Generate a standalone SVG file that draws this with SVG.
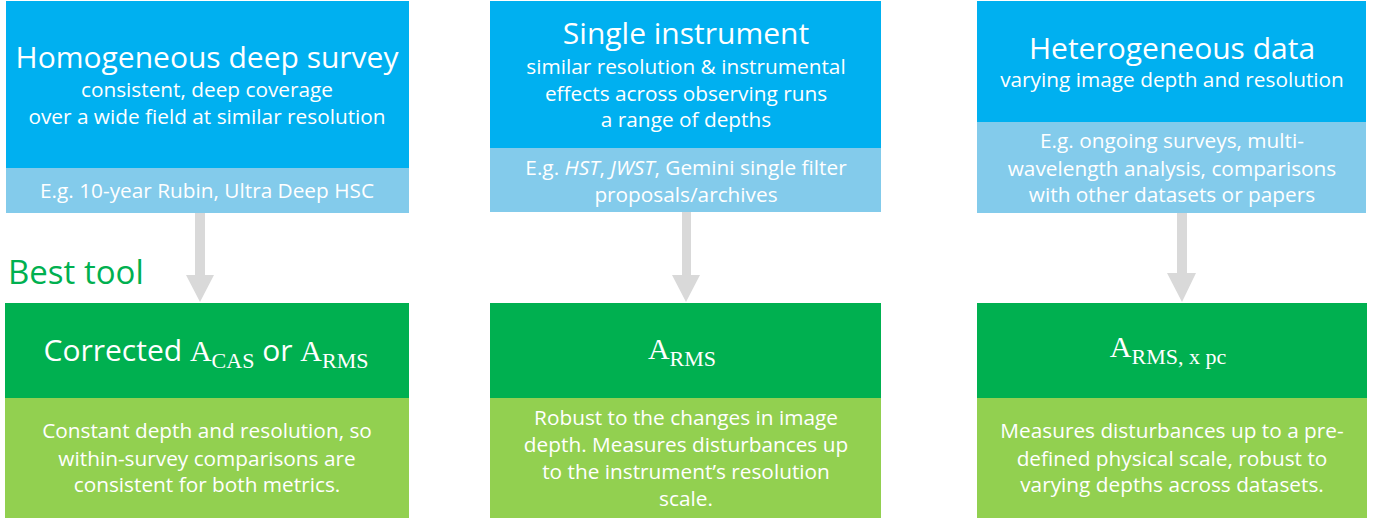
<svg xmlns="http://www.w3.org/2000/svg" width="1377" height="518" viewBox="0 0 1377 518">
<style>
.blue{fill:#00B0F0}
.lblue{fill:#83CBEB}
.green{fill:#00B050}
.lgreen{fill:#92D050}
.arrow{fill:#D9D9D9}
text{font-family:"Open Sans","Liberation Sans",sans-serif;fill:#FFFFFF;text-anchor:middle}
.title{font-size:30px}
.body{font-size:20.8px}
.math{font-family:"Liberation Serif","DejaVu Serif",serif;font-size:30px}
.sub{font-size:22px}
.best{font-size:33px;fill:#00B050;text-anchor:start}
</style>
<rect width="1377" height="518" fill="#FFFFFF"/>
<g id="connectors">
<polygon class="arrow" points="195,213 205,213 205,275 214,275 200,302 186,275 195,275"/>
<polygon class="arrow" points="682,212 691,212 691,275 700,275 686,302 672,275 682,275"/>
<polygon class="arrow" points="1177,213 1187,213 1187,273 1196,273 1182,302 1167,273 1177,273"/>
</g>
<g id="homogeneous">
<rect class="blue" x="6" y="1" width="403" height="167"/>
<text class="title" x="207" y="68">Homogeneous deep survey</text>
<text class="body" x="207" y="97">consistent, deep coverage</text>
<text class="body" x="207" y="124">over a wide field at similar resolution</text>
<rect class="lblue" x="6" y="168" width="403" height="45"/>
<text class="body" x="207" y="198">E.g. 10-year Rubin, Ultra Deep HSC</text>
</g>
<g id="single">
<rect class="blue" x="490" y="1" width="391" height="147"/>
<text class="title" x="686" y="44">Single instrument</text>
<text class="body" x="686" y="74">similar resolution &amp; instrumental</text>
<text class="body" x="686" y="101">effects across observing runs</text>
<text class="body" x="686" y="127">a range of depths</text>
<rect class="lblue" x="490" y="148" width="391" height="64"/>
<text class="body" x="686" y="175">E.g. <tspan font-style="italic">HST</tspan>, <tspan font-style="italic">JWST</tspan>, Gemini single filter</text>
<text class="body" x="686" y="202">proposals/archives</text>
</g>
<g id="heterogeneous">
<rect class="blue" x="977" y="1" width="389" height="121"/>
<text class="title" x="1172" y="59">Heterogeneous data</text>
<text class="body" x="1172" y="87">varying image depth and resolution</text>
<rect class="lblue" x="977" y="122" width="389" height="91"/>
<text class="body" x="1172" y="148">E.g. ongoing surveys, multi-</text>
<text class="body" x="1172" y="176">wavelength analysis, comparisons</text>
<text class="body" x="1172" y="202">with other datasets or papers</text>
</g>
<g id="best-tool">
<text class="best" x="8" y="284">Best tool</text>
</g>
<g id="tool-cas">
<rect class="green" x="5" y="303" width="404" height="95"/>
<text class="title" x="206" y="361">Corrected <tspan class="math">A</tspan><tspan class="math sub" dy="7">CAS</tspan><tspan dy="-7"> or </tspan><tspan class="math">A</tspan><tspan class="math sub" dy="7">RMS</tspan></text>
<rect class="lgreen" x="5" y="398" width="404" height="120"/>
<text class="body" x="207" y="438">Constant depth and resolution, so</text>
<text class="body" x="207" y="466">within-survey comparisons are</text>
<text class="body" x="207" y="492">consistent for both metrics.</text>
</g>
<g id="tool-rms">
<rect class="green" x="490" y="303" width="391" height="95"/>
<text class="math" x="682" y="359">A<tspan class="sub" dy="7">RMS</tspan></text>
<rect class="lgreen" x="490" y="398" width="391" height="120"/>
<text class="body" x="686" y="425">Robust to the changes in image</text>
<text class="body" x="686" y="452">depth. Measures disturbances up</text>
<text class="body" x="686" y="479">to the instrument’s resolution</text>
<text class="body" x="686" y="506">scale.</text>
</g>
<g id="tool-rms-pc">
<rect class="green" x="977" y="303" width="390" height="95"/>
<text class="math" x="1168" y="357">A<tspan class="sub" dy="7">RMS, x pc</tspan></text>
<rect class="lgreen" x="977" y="398" width="390" height="120"/>
<text class="body" x="1172" y="438">Measures disturbances up to a pre-</text>
<text class="body" x="1172" y="466">defined physical scale, robust to</text>
<text class="body" x="1172" y="492">varying depths across datasets.</text>
</g>
</svg>
